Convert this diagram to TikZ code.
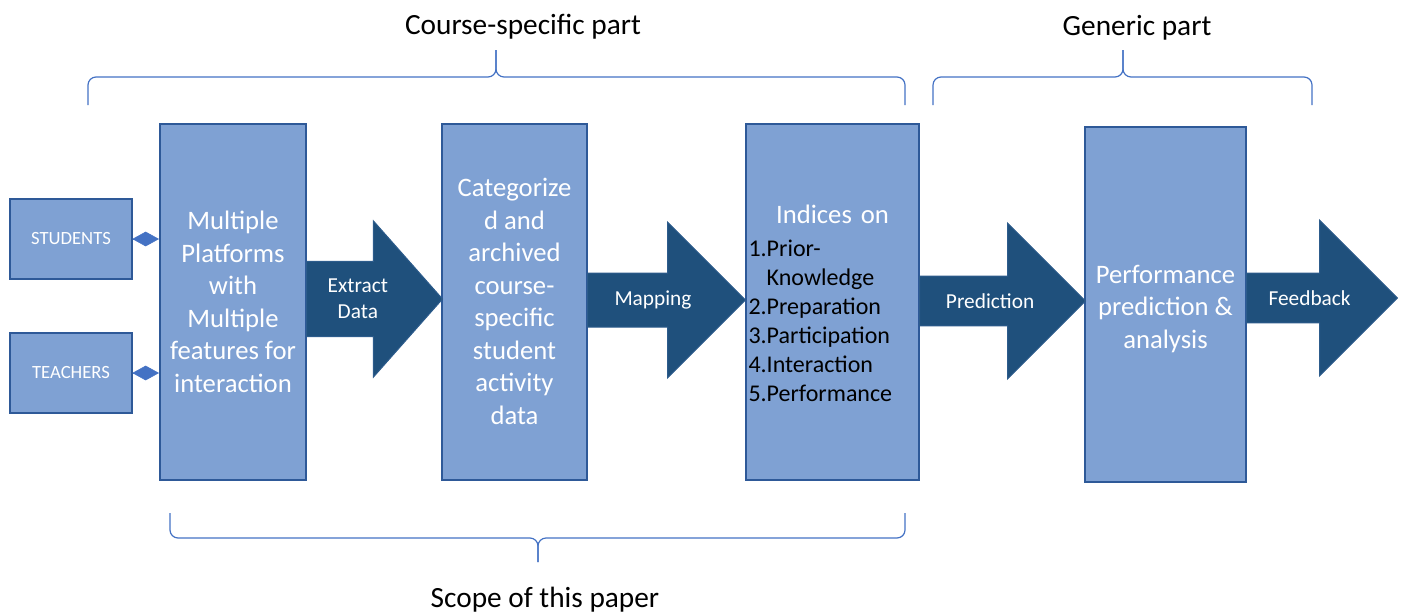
\documentclass[tikz,border=0pt]{standalone}
\usepackage{fontspec}
\setmainfont{Carlito}
\usepackage{xcolor}
\usepackage{tikz}
\usetikzlibrary{shapes.arrows,arrows.meta}

\definecolor{boxfill}{RGB}{127,161,211}
\definecolor{boxline}{RGB}{46,89,152}
\definecolor{arrowfill}{RGB}{31,80,124}
\definecolor{arrowline}{RGB}{45,92,140}
\definecolor{linkblue}{RGB}{68,114,196}

\begin{document}
\begin{tikzpicture}[x=0.75pt,y=-0.75pt,
  bigbox/.style={draw=boxline,fill=boxfill,line width=1.5pt,text=white,align=center,
    minimum height=267pt,font=\fontsize{20}{24.4}\selectfont},
  userbox/.style={draw=boxline,fill=boxfill,line width=1.5pt,text=white,
    minimum width=91.5pt,minimum height=60pt,font=\fontsize{14}{17}\selectfont},
  bigarrow/.style={single arrow,draw=arrowline,fill=arrowfill,line width=0.75pt,text=white,
    align=center,minimum width=117pt,single arrow head extend=20pt,anchor=tail,
    font=\fontsize{16}{19.5}\selectfont},
  link/.style={draw=linkblue,line width=0.4pt,-{Diamond[length=20pt,width=11pt,fill=linkblue]}},
  curly/.style={draw=linkblue,line width=0.9pt,rounded corners=6pt},
  header/.style={font=\fontsize{22}{26.8}\selectfont}]
\useasboundingbox (0,0) rectangle (1401,614);

\node[userbox] (stud) at (71,239) {STUDENTS};
\node[userbox] (teach) at (71,373) {TEACHERS};

\node[bigbox,minimum width=109.5pt] (plat) at (233,302) {Multiple\\Platforms\\with\\Multiple\\features for\\interaction};
\node[bigbox,minimum width=108.75pt] (cat) at (514.5,301.5) {Categorize\\d and\\archived\\course-\\specific\\student\\activity\\data};
\node[bigbox,minimum width=129.75pt,text width=126pt,inner xsep=1.5pt] (idx) at (832.5,301.5) {\rule{0pt}{23pt}Indices on\\
  \makebox[126pt][l]{\color{black}\fontsize{18}{21.75}\selectfont
  \begin{tabular}[t]{@{}l@{}l@{}}1.&Prior-\\&Knowledge\\2.&Preparation\\3.&Participation\\4.&Interaction\\5.&Performance\end{tabular}}};
\node[bigbox,minimum width=120.75pt,minimum height=266.25pt] (perf) at (1165.5,304.5) {\rule{0pt}{20pt}Performance\\prediction \&\\analysis};

\draw[link] (stud.east) -- (plat.west |- stud.east);
\draw[link] (teach.east) -- (plat.west |- teach.east);

\node[bigarrow,minimum height=102pt,single arrow tip angle=97] (extract) at (306,299) {Extract\\Data};
\node[bigarrow,minimum height=118.5pt] (mapping) at (587,300) {Mapping};
\node[bigarrow,minimum height=124.5pt] (predict) at (919,301) {Prediction};
\node[bigarrow,minimum height=113.25pt] (feedback) at (1246,298) {Feedback};

% braces
\draw[curly] (88,105) |- (496,77) -- (496,50);
\draw[curly] (496,50) -- (496,77) -| (905,105);
\draw[curly] (933,105) |- (1123,77) -- (1123,50);
\draw[curly] (1123,50) -- (1123,77) -| (1312,105);
\draw[curly] (170,513) |- (538,538) -- (538,562);
\draw[curly] (538,562) -- (538,538) -| (905,513);

\node[header] (cspart) at (523,27) {Course-specific part};
\node[header] (genpart) at (1137,28) {Generic part};
\node[header] (scope) at (545,600) {Scope of this paper};
\end{tikzpicture}
\end{document}
